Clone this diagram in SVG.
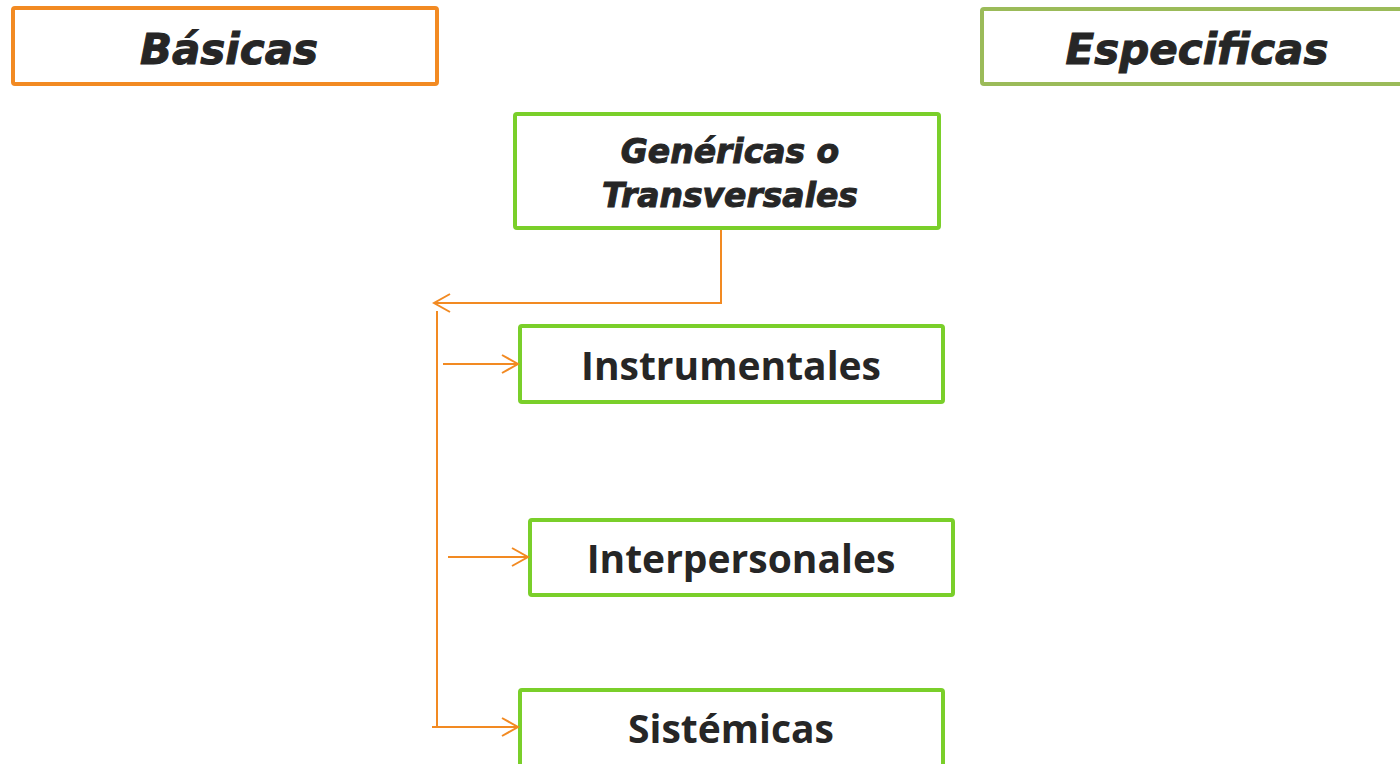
<svg xmlns="http://www.w3.org/2000/svg" width="1400" height="764" viewBox="0 0 1400 764">
<style>
.box{fill:#fff;stroke-width:4}
.org{stroke:#F28A22}
.olv{stroke:#9BBB59}
.grn{stroke:#7ACF2A}
.ti{font-family:"DejaVu Sans",Verdana,sans-serif;font-weight:bold;font-style:italic;fill:#262626;stroke:#262626;stroke-width:1;text-anchor:middle}
.tb{font-family:"Open Sans","Noto Sans",sans-serif;font-weight:bold;fill:#262626;text-anchor:middle}
.con{fill:none;stroke:#F28A22;stroke-width:2}
</style>
<defs>
<marker id="ah" viewBox="0 0 20 20" refX="18" refY="10" markerWidth="20" markerHeight="20" markerUnits="userSpaceOnUse" orient="auto">
<path d="M2,1 L18,10 L2,19" fill="none" stroke="#F28A22" stroke-width="2"/>
</marker>
</defs>
<rect width="1400" height="764" fill="#fff"/>
<g id="basicas">
<rect class="box org" x="13" y="8" width="424" height="76" rx="2"/>
<text class="ti" x="229" y="64" font-size="42">Básicas</text>
</g>
<g id="especificas">
<rect class="box olv" x="982" y="9" width="430" height="75" rx="2"/>
<text class="ti" x="1197" y="64" font-size="42">Especificas</text>
</g>
<g id="genericas">
<rect class="box grn" x="515" y="114" width="424" height="114" rx="2"/>
<text class="ti" x="730" y="163" font-size="33">Genéricas o</text>
<text class="ti" x="730" y="207" font-size="33">Transversales</text>
</g>
<g id="instrumentales">
<rect class="box grn" x="520" y="326" width="423" height="76" rx="2"/>
<text class="tb" x="731" y="380" font-size="39">Instrumentales</text>
</g>
<g id="interpersonales">
<rect class="box grn" x="530" y="520" width="423" height="75" rx="2"/>
<text class="tb" x="741" y="573" font-size="39">Interpersonales</text>
</g>
<g id="sistemicas">
<rect class="box grn" x="520" y="690" width="423" height="80" rx="2"/>
<text class="tb" x="731" y="743" font-size="39">Sistémicas</text>
</g>
<g id="connectors">
<path class="con" d="M721,230 V303 H434" marker-end="url(#ah)"/>
<path class="con" d="M437,311 V727"/>
<path class="con" d="M443,364 H518" marker-end="url(#ah)"/>
<path class="con" d="M448,557 H528" marker-end="url(#ah)"/>
<path class="con" d="M432,727 H518" marker-end="url(#ah)"/>
</g>
</svg>
